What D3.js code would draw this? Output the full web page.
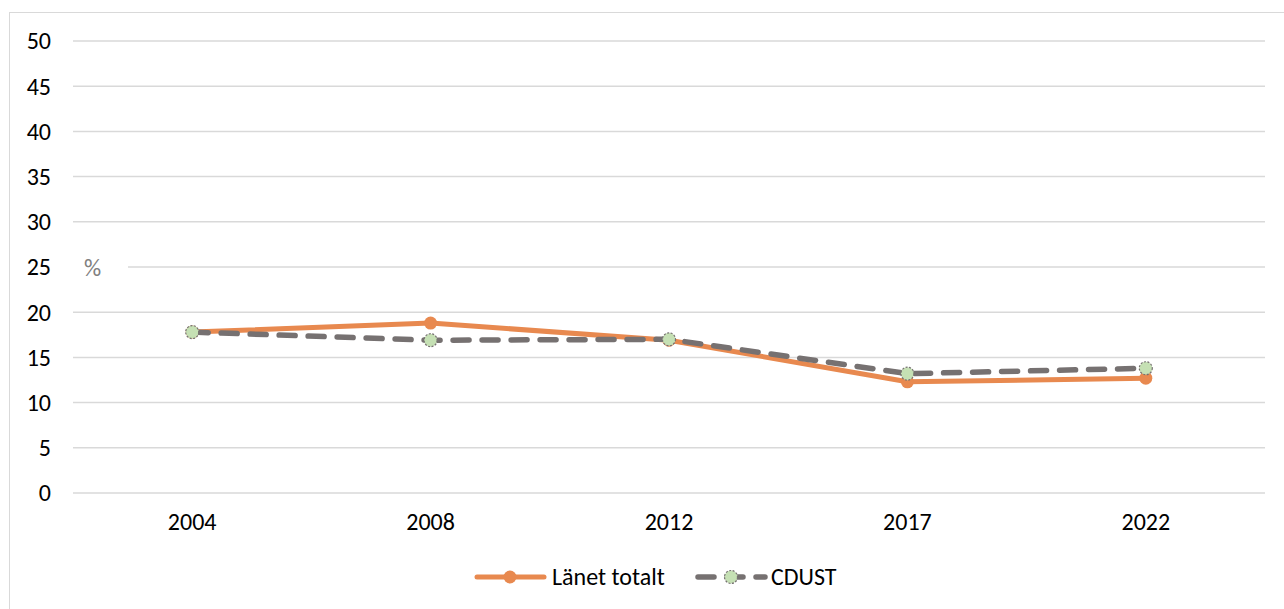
<!DOCTYPE html>
<html><head><meta charset="utf-8">
<script src="https://cdn.jsdelivr.net/npm/d3@7"></script>
<style>body{margin:0;background:#fff}svg{display:block}text{font-family:Carlito,"Open Sans","Liberation Sans",sans-serif}</style>
</head><body><svg id="c" width="1284" height="609"></svg>
<script>
const years = ["2004","2008","2012","2017","2022"];
const lanet = [17.8, 18.8, 16.9, 12.3, 12.7];
const cdust = [17.8, 16.9, 17.0, 13.2, 13.8];
const yTicks = [0,5,10,15,20,25,30,35,40,45,50];

const FONT = 'Carlito,"Open Sans","Liberation Sans",sans-serif';
const FS = 24;
const svg = d3.select("#c");
// chart border
svg.append("rect").attr("x",9.5).attr("y",12.5).attr("width",1290).attr("height",620)
  .attr("fill","none").attr("stroke","#d9d9d9").attr("stroke-width",1);

const L=73, R=1265, T=41, B=493;
const x = d3.scaleBand().domain(years).range([L,R]);
const y = d3.scaleLinear().domain([0,50]).range([B,T]);

// gridlines
const g = svg.append("g");
yTicks.forEach(v=>{
  g.append("line").attr("x1", v===25?128:L).attr("x2",R)
    .attr("y1",y(v)).attr("y2",y(v)).attr("stroke","#d9d9d9").attr("stroke-width",1.5);
});
// y axis labels
const yAxis = d3.axisLeft(y).tickValues(yTicks).tickSize(0).tickPadding(0);
const ya = svg.append("g").attr("transform","translate(51,0)").call(yAxis)
  .attr("font-size",FS).attr("font-family",FONT);
ya.select(".domain").remove();
ya.selectAll("text").attr("fill","#000").attr("dy","0.33em");
// x axis labels
const xAxis = d3.axisBottom(x).tickSize(0).tickPadding(0);
const xa = svg.append("g").attr("transform",`translate(0,${B+29})`).call(xAxis)
  .attr("font-size",FS).attr("font-family",FONT);
xa.select(".domain").remove();
xa.selectAll("text").attr("fill","#000").attr("dy","0.33em");

// % label
svg.append("text").attr("x",84).attr("y",y(25)+1).attr("dy","0.33em").attr("font-size",FS)
  .attr("fill","#808080").text("%");

const cx = d => x(d)+x.bandwidth()/2;
const line = d3.line().x((d,i)=>cx(years[i])).y(d=>y(d));

const ORANGE="#E8894F", GRAY="#767171", GREEN="#C5E0B4";

svg.append("path").datum(lanet).attr("d",line).attr("fill","none")
  .attr("stroke",ORANGE).attr("stroke-width",5).attr("stroke-linejoin","round").attr("stroke-linecap","round");
svg.selectAll(".m1").data(lanet).enter().append("circle")
  .attr("cx",(d,i)=>cx(years[i])).attr("cy",d=>y(d)).attr("r",6.5).attr("fill",ORANGE);

svg.append("path").datum(cdust).attr("d",line).attr("fill","none")
  .attr("stroke",GRAY).attr("stroke-width",5.5).attr("stroke-dasharray","16,13").attr("stroke-linecap","round");
svg.selectAll(".m2").data(cdust).enter().append("circle")
  .attr("cx",(d,i)=>cx(years[i])).attr("cy",d=>y(d)).attr("r",6.5).attr("fill",GREEN)
  .attr("stroke",GRAY).attr("stroke-width",1.2).attr("stroke-dasharray","2,1.5");

// legend
const ly=577;
svg.append("line").attr("x1",477).attr("x2",544).attr("y1",ly).attr("y2",ly)
  .attr("stroke",ORANGE).attr("stroke-width",5).attr("stroke-linecap","round");
svg.append("circle").attr("cx",510).attr("cy",ly).attr("r",6.5).attr("fill",ORANGE);
svg.append("text").attr("x",552).attr("y",ly).attr("dy","0.33em").attr("font-size",FS).text("Länet totalt");

svg.append("line").attr("x1",698).attr("x2",765).attr("y1",ly).attr("y2",ly)
  .attr("stroke",GRAY).attr("stroke-width",5.5).attr("stroke-dasharray","16,13").attr("stroke-linecap","round");
svg.append("circle").attr("cx",731).attr("cy",ly).attr("r",6.5).attr("fill",GREEN)
  .attr("stroke",GRAY).attr("stroke-width",1.2).attr("stroke-dasharray","2,1.5");
svg.append("text").attr("x",771).attr("y",ly).attr("dy","0.33em").attr("font-size",FS).text("CDUST");
</script></body></html>
